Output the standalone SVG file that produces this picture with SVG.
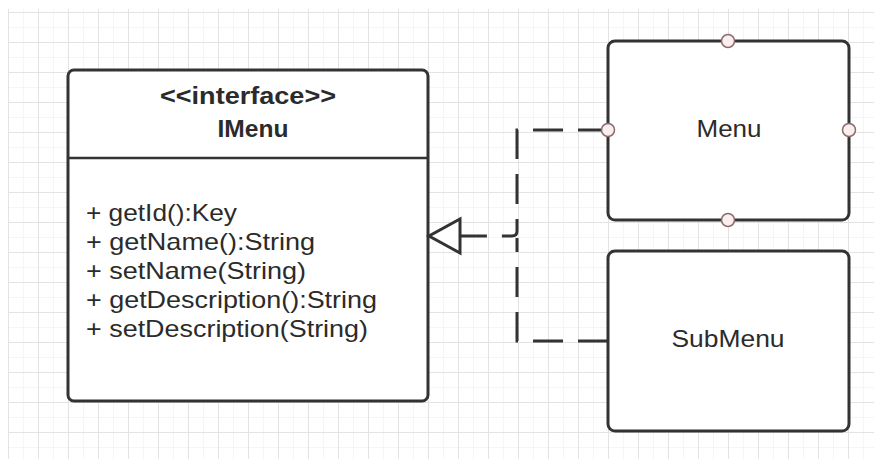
<svg xmlns="http://www.w3.org/2000/svg" width="874" height="459" viewBox="0 0 874 459">
  <defs>
    <pattern id="grid" patternUnits="userSpaceOnUse" x="8" y="12" width="30" height="30">
      <path d="M0 15.5 H30 M15.5 0 V30" stroke="#f5f5f5" stroke-width="1" fill="none"/>
      <path d="M0 0.5 H30 M0.5 0 V30" stroke="#e3e3e3" stroke-width="1" fill="none"/>
    </pattern>
    <!-- hollow triangle for interface realization -->
    <marker id="realize" markerUnits="userSpaceOnUse" markerWidth="40" markerHeight="44" refX="2" refY="20" orient="auto">
      <path d="M2 3 L33 20 L2 37 Z" fill="#ffffff" stroke="#333333" stroke-width="3" stroke-linejoin="miter"/>
    </marker>
    <style>
      .box { fill: #ffffff; stroke: #333333; stroke-width: 3; }
      .sep { stroke: #333333; stroke-width: 2.5; }
      .port { fill: #fbeeee; stroke: #8c6b6b; stroke-width: 1.5; }
      .dash { fill: none; stroke: #333333; stroke-width: 3; stroke-dasharray: 30 15; }
      text { font-family: "Liberation Sans", Arial, sans-serif; fill: #2b2b2b; }
      .title { font-weight: bold; font-size: 23px; text-anchor: middle; }
      .member { font-size: 24px; }
      .label { font-size: 24px; text-anchor: middle; }
    </style>
  </defs>

  <!-- canvas -->
  <rect x="0" y="0" width="874" height="459" fill="#ffffff"/>
  <rect x="8" y="9" width="866" height="450" fill="url(#grid)"/>

  <!-- interface class -->
  <g id="imenu">
    <rect class="box" x="68" y="70" width="360" height="331" rx="6"/>
    <line class="sep" x1="68" y1="158" x2="428" y2="158"/>
    <text class="title" x="248" y="104" textLength="176" lengthAdjust="spacingAndGlyphs">&lt;&lt;interface&gt;&gt;</text>
    <text class="title" x="253" y="137" textLength="71" lengthAdjust="spacingAndGlyphs">IMenu</text>
    <text class="member" x="86" y="221" textLength="151" lengthAdjust="spacingAndGlyphs">+ getId():Key</text>
    <text class="member" x="86" y="250" textLength="229" lengthAdjust="spacingAndGlyphs">+ getName():String</text>
    <text class="member" x="86" y="279" textLength="220" lengthAdjust="spacingAndGlyphs">+ setName(String)</text>
    <text class="member" x="86" y="308" textLength="291" lengthAdjust="spacingAndGlyphs">+ getDescription():String</text>
    <text class="member" x="86" y="337" textLength="282" lengthAdjust="spacingAndGlyphs">+ setDescription(String)</text>
  </g>

  <!-- Menu component -->
  <g id="menu">
    <rect class="box" x="608" y="41" width="241" height="179" rx="7"/>
    <text class="label" x="729" y="137" textLength="65" lengthAdjust="spacingAndGlyphs">Menu</text>
  </g>

  <!-- SubMenu component -->
  <g id="submenu">
    <rect class="box" x="608" y="251" width="241" height="180" rx="7"/>
    <text class="label" x="728" y="347" textLength="113" lengthAdjust="spacingAndGlyphs">SubMenu</text>
  </g>

  <!-- dependency connectors -->
  <g id="connectors">
    <path class="dash" d="M608 130 H517 V231 Q517 236 512 236 H460" marker-end="url(#realize)"/>
    <path class="dash" d="M608 341 H517 V238"/>
  </g>

  <!-- connection points on Menu -->
  <g id="menu-ports">
    <circle class="port" cx="728" cy="41" r="6.5"/>
    <circle class="port" cx="608" cy="130" r="6.5"/>
    <circle class="port" cx="849" cy="130" r="6.5"/>
    <circle class="port" cx="728" cy="220" r="6.5"/>
  </g>
</svg>
